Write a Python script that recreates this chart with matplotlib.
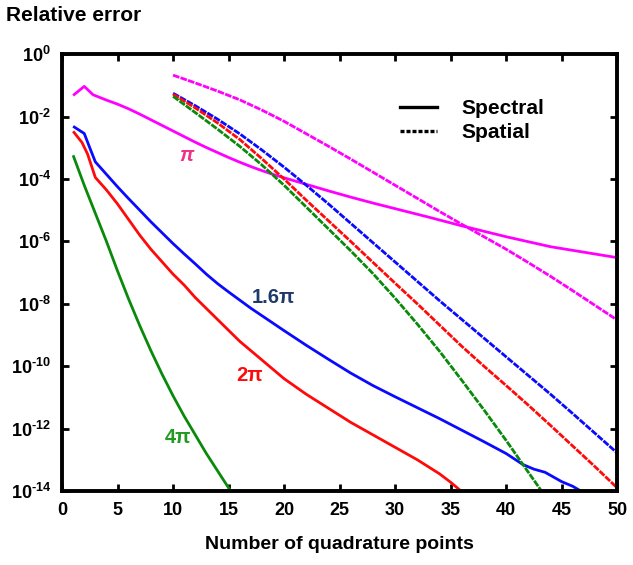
import numpy as np
import matplotlib
matplotlib.use("Agg")
import matplotlib.pyplot as plt
from matplotlib.lines import Line2D

plt.rcParams['font.family'] = ['Liberation Sans', 'DejaVu Sans']
plt.rcParams['mathtext.default'] = 'regular'

# Spectral (solid) curves: x, log10(relative error)
pi_spec_x = [1, 2, 2.8, 4, 5, 6, 7, 8, 9, 10, 11, 12, 13, 14, 15, 16, 17, 18, 19, 20, 22, 24, 26, 28, 30, 33, 36, 40, 44, 50]
pi_spec_y = [-1.32, -1.03, -1.30, -1.47, -1.60, -1.75, -1.92, -2.10, -2.28, -2.46, -2.64, -2.82, -2.99, -3.15, -3.31,
             -3.46, -3.60, -3.73, -3.85, -3.96, -4.17, -4.38, -4.58, -4.77, -4.95, -5.22, -5.50, -5.85, -6.17, -6.52]

b16_spec_x = [1, 2, 2.5, 3, 4, 5, 6, 7, 8, 9, 10, 11, 12, 13, 14, 15, 16, 17, 18, 19, 20, 22, 24, 26, 28, 30,
              32, 34, 36, 38, 40, 41.5, 42.5, 43.5, 45, 46, 47]
b16_spec_y = [-2.31, -2.54, -3.00, -3.45, -3.85, -4.25, -4.63, -5.00, -5.37, -5.72, -6.07, -6.40, -6.72, -7.05,
              -7.35, -7.62, -7.88, -8.14, -8.38, -8.62, -8.86, -9.33, -9.78, -10.22, -10.62, -10.98, -11.33,
              -11.68, -12.05, -12.42, -12.80, -13.15, -13.30, -13.40, -13.70, -13.85, -14.06]

r2_spec_x = [1, 1.8, 2.3, 3, 4, 5, 6, 7, 8, 9, 10, 11, 12, 13, 14, 15, 16, 17, 18, 19, 20, 22, 24, 26, 28, 30,
             32, 34, 35, 36.1]
r2_spec_y = [-2.47, -2.83, -3.20, -3.95, -4.35, -4.80, -5.30, -5.80, -6.25, -6.65, -7.05, -7.40, -7.80, -8.15,
             -8.50, -8.85, -9.20, -9.50, -9.80, -10.10, -10.40, -10.90, -11.35, -11.80, -12.20, -12.60, -13.00,
             -13.45, -13.72, -14.05]

g4_spec_x = [1, 2, 3, 4, 5, 6, 7, 8, 9, 10, 11, 12, 13, 14, 15, 15.3]
g4_spec_y = [-3.24, -4.20, -5.10, -6.00, -6.95, -7.85, -8.70, -9.50, -10.25, -10.95, -11.60, -12.20, -12.80,
             -13.35, -13.90, -14.05]

# Spatial (dashed) curves
pi_spat_x = [10, 12, 14, 16, 18, 20, 22, 24, 26, 28, 30, 32, 34, 36, 38, 40, 42, 44, 46, 48, 50]
pi_spat_y = [-0.67, -0.92, -1.18, -1.46, -1.79, -2.15, -2.55, -2.95, -3.36, -3.78, -4.20, -4.62, -5.04, -5.45,
             -5.85, -6.25, -6.68, -7.12, -7.58, -8.05, -8.52]

b16_spat_x = [10, 12, 14, 16, 18, 20, 22, 24, 26, 28, 30, 32, 34, 36, 38, 40, 42, 44, 46, 48, 50]
b16_spat_y = [-1.25, -1.65, -2.08, -2.55, -3.07, -3.62, -4.20, -4.80, -5.42, -6.04, -6.66, -7.28, -7.90, -8.50,
              -9.10, -9.70, -10.30, -10.90, -11.52, -12.15, -12.78]

r2_spat_x = [10, 12, 14, 16, 18, 20, 22, 24, 26, 28, 30, 32, 34, 36, 38, 40, 42, 44, 46, 48, 50]
r2_spat_y = [-1.28, -1.72, -2.20, -2.73, -3.35, -4.00, -4.68, -5.34, -6.00, -6.67, -7.34, -8.00, -8.68, -9.36,
             -10.00, -10.62, -11.25, -11.90, -12.56, -13.22, -13.90]

g4_spat_x = [10, 12, 14, 16, 18, 20, 22, 24, 26, 28, 30, 32, 34, 36, 38, 40, 42, 43.3]
g4_spat_y = [-1.35, -1.87, -2.40, -2.95, -3.55, -4.20, -4.90, -5.60, -6.30, -7.03, -7.82, -8.65, -9.52, -10.45,
             -11.40, -12.38, -13.40, -14.06]

x_ticks = [0, 5, 10, 15, 20, 25, 30, 35, 40, 45, 50]
y_tick_exps = [0, -2, -4, -6, -8, -10, -12, -14]

MAG = '#ff00ff'
BLUE = '#0a0aff'
RED = '#ff0a0a'
GREEN = '#0a8a0a'

fig = plt.figure(figsize=(6.33, 5.65), dpi=100)
ax = fig.add_axes([0.098, 0.131, 0.877, 0.773])

lw = 2.0
spat_ls = (0, (2.4, 0.45))
for xs, ys, c in [(pi_spec_x, pi_spec_y, MAG), (b16_spec_x, b16_spec_y, BLUE),
                  (r2_spec_x, r2_spec_y, RED), (g4_spec_x, g4_spec_y, GREEN)]:
    ax.plot(xs, 10.0 ** np.array(ys), color=c, lw=lw, solid_capstyle='butt',
            solid_joinstyle='round')
for xs, ys, c in [(pi_spat_x, pi_spat_y, MAG), (b16_spat_x, b16_spat_y, BLUE),
                  (r2_spat_x, r2_spat_y, RED), (g4_spat_x, g4_spat_y, GREEN)]:
    ax.plot(xs, 10.0 ** np.array(ys), color=c, lw=lw, linestyle=spat_ls)

ax.set_yscale('log')
ax.set_xlim(0, 50)
ax.set_ylim(1e-14, 1)
ax.set_xticks(x_ticks)
ax.set_xticklabels([str(t) for t in x_ticks])
ax.set_yticks([10.0 ** e for e in y_tick_exps])
ax.set_yticklabels(['$10^{%s}$' % (('\u2010%d' % -e) if e < 0 else '0') for e in y_tick_exps])
ax.minorticks_off()
ax.tick_params(direction='in', length=5, width=2, top=True, right=True,
               labelsize=13, pad=8)
for lab in ax.get_xticklabels() + ax.get_yticklabels():
    lab.set_fontweight('bold')
for s in ax.spines.values():
    s.set_linewidth(2.8)

ax.set_xlabel('Number of quadrature points', fontsize=14, fontweight='bold', labelpad=12)
fig.text(0.010, 0.972, 'Relative error', fontsize=15, fontweight='bold', ha='left', va='center')

handles = [Line2D([], [], color='black', lw=2.4),
           Line2D([], [], color='black', lw=2.4, linestyle=(0, (1.2, 0.6)))]
ax.legend(handles, ['Spectral', 'Spatial'], loc='center left', bbox_to_anchor=(0.608, 0.848),
          frameon=False, handlelength=1.8, handletextpad=1.15, labelspacing=0.25,
          borderpad=0, borderaxespad=0, prop={'size': 15, 'weight': 'bold'})

ax.text(11.2, 10 ** -3.25, 'π', color='#f0308a', fontsize=14.5, fontweight='bold',
        style='italic', ha='center', va='center')
ax.text(19.0, 10 ** -7.8, '1.6π', color='#1f3a6a', fontsize=14.5, fontweight='bold',
        ha='center', va='center')
ax.text(16.9, 10 ** -10.3, '2π', color=RED, fontsize=14.5, fontweight='bold',
        ha='center', va='center')
ax.text(10.4, 10 ** -12.3, '4π', color='#229922', fontsize=14.5, fontweight='bold',
        ha='center', va='center')

fig.savefig('out.png', dpi=100)
